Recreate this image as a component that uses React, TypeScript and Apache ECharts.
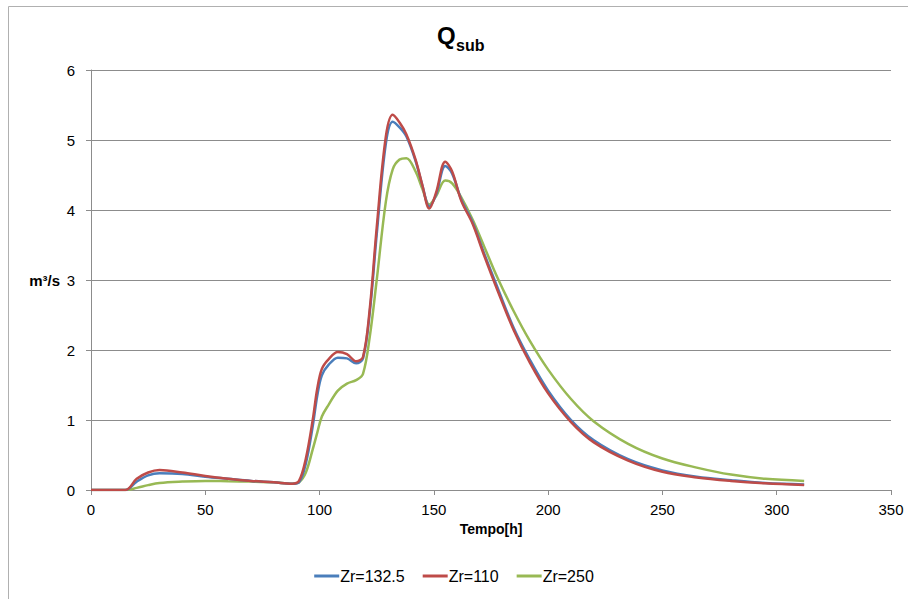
import React, { useEffect, useRef } from "react";
import * as echarts from "echarts";

const hours = [0, 15, 20, 25, 30, 40, 50, 60, 70, 80, 88, 91, 94, 97, 99, 101, 104, 108, 112, 116, 119, 122, 125, 129, 132, 135, 138, 142, 145, 148, 151, 155, 158, 162, 167, 172, 178, 185, 192, 200, 210, 220, 235, 250, 265, 280, 295, 312];

const zr1325 = [0, 0, 0.12, 0.21, 0.24, 0.23, 0.19, 0.16, 0.13, 0.11, 0.09, 0.11, 0.38, 0.91, 1.35, 1.64, 1.79, 1.89, 1.88, 1.81, 1.88, 2.55, 3.65, 4.95, 5.26, 5.18, 5.05, 4.7, 4.35, 4.05, 4.22, 4.63, 4.52, 4.15, 3.82, 3.38, 2.88, 2.31, 1.86, 1.42, 1.0, 0.71, 0.44, 0.28, 0.19, 0.14, 0.1, 0.08];

const zr110 = [0, 0, 0.16, 0.25, 0.285, 0.25, 0.2, 0.16, 0.13, 0.11, 0.09, 0.13, 0.45, 1.0, 1.45, 1.73, 1.87, 1.97, 1.94, 1.84, 1.9, 2.6, 3.75, 5.05, 5.36, 5.25, 5.08, 4.72, 4.35, 4.02, 4.25, 4.69, 4.55, 4.13, 3.8, 3.35, 2.84, 2.28, 1.82, 1.38, 0.97, 0.68, 0.42, 0.26, 0.18, 0.13, 0.095, 0.07];

const zr250 = [0, 0, 0.03, 0.07, 0.1, 0.12, 0.13, 0.125, 0.12, 0.11, 0.09, 0.11, 0.25, 0.58, 0.82, 1.05, 1.22, 1.42, 1.52, 1.57, 1.66, 2.2, 3.0, 4.12, 4.58, 4.72, 4.74, 4.55, 4.3, 4.08, 4.2, 4.42, 4.38, 4.18, 3.86, 3.48, 3.02, 2.55, 2.13, 1.72, 1.3, 0.98, 0.66, 0.45, 0.32, 0.22, 0.16, 0.13];

const seriesNames = ["Zr=132.5", "Zr=110", "Zr=250"];
const seriesColors = ["#4A7EBB", "#BE4B48", "#98B954"];
const seriesValues = [zr1325, zr110, zr250];

const titleMain = "Q";
const titleSub = "sub";

const xTicks = { min: 0, max: 350, interval: 50 };
const yTicks = { min: 0, max: 6, interval: 1 };

const FONT = "'Liberation Sans', Arial, sans-serif";

export default function App() {
  const ref = useRef<HTMLDivElement>(null);
  useEffect(() => {
    if (!ref.current) return;
    const chart = echarts.init(ref.current, null, { renderer: "svg" });
    chart.setOption({
      animation: false,
      backgroundColor: "#ffffff",
      textStyle: { fontFamily: FONT },
      graphic: [
        {
          type: "rect",
          shape: { x: 8.5, y: 6.5, width: 920, height: 620 },
          style: { fill: "none", stroke: "#b0b0b0", lineWidth: 1 },
          silent: true,
        },
        {
          type: "text",
          x: 437,
          y: 23,
          style: { text: titleMain, font: `bold 24px ${FONT}`, fill: "#000", verticalAlign: "top", align: "left" },
          silent: true,
        },
        {
          type: "text",
          x: 456,
          y: 37,
          style: { text: titleSub, font: `bold 16px ${FONT}`, fill: "#000", verticalAlign: "top", align: "left" },
          silent: true,
        },
      ],
      grid: { left: 91, right: 17, top: 70, bottom: 109, containLabel: false },
      legend: {
        bottom: 10,
        left: "center",
        itemWidth: 25,
        itemHeight: 3,
        itemGap: 18,
        icon: "rect",
        textStyle: { fontSize: 16, color: "#000", fontFamily: FONT, padding: [0, 0, 0, -4] },
        data: seriesNames,
      },
      xAxis: {
        type: "value",
        min: xTicks.min,
        max: xTicks.max,
        interval: xTicks.interval,
        name: "Tempo[h]",
        nameLocation: "middle",
        nameGap: 10,
        nameTextStyle: { fontWeight: "bold", fontSize: 14, color: "#000", fontFamily: FONT },
        axisLine: { show: true, lineStyle: { color: "#8c8c8c", width: 1 } },
        axisTick: { show: true, length: 5, lineStyle: { color: "#8c8c8c" } },
        axisLabel: { fontSize: 15, color: "#000", margin: 12, fontFamily: FONT },
        splitLine: { show: false },
      },
      yAxis: {
        type: "value",
        min: yTicks.min,
        max: yTicks.max,
        interval: yTicks.interval,
        name: "m³/s",
        nameLocation: "middle",
        nameRotate: 0,
        nameGap: 31,
        nameTextStyle: { fontWeight: "bold", fontSize: 15, color: "#000", fontFamily: FONT },
        axisLine: { show: true, lineStyle: { color: "#8c8c8c", width: 1 } },
        axisTick: { show: true, length: 5, lineStyle: { color: "#8c8c8c" } },
        axisLabel: { fontSize: 15, color: "#000", margin: 16, fontFamily: FONT },
        splitLine: { show: true, lineStyle: { color: "#8c8c8c", width: 1 } },
      },
      series: seriesNames.map((name, i) => ({
        name,
        type: "line",
        data: hours.map((h, j) => [h, seriesValues[i][j]]),
        smooth: 0.35,
        showSymbol: false,
        symbol: "none",
        lineStyle: { color: seriesColors[i], width: 2.5 },
        itemStyle: { color: seriesColors[i] },
        z: i === 2 ? 1 : i === 0 ? 2 : 3,
      })),
    });
    return () => chart.dispose();
  }, []);
  return (
    <div
      ref={ref}
      style={{ position: "absolute", left: 0, top: 0, width: 908, height: 599 }}
    />
  );
}
